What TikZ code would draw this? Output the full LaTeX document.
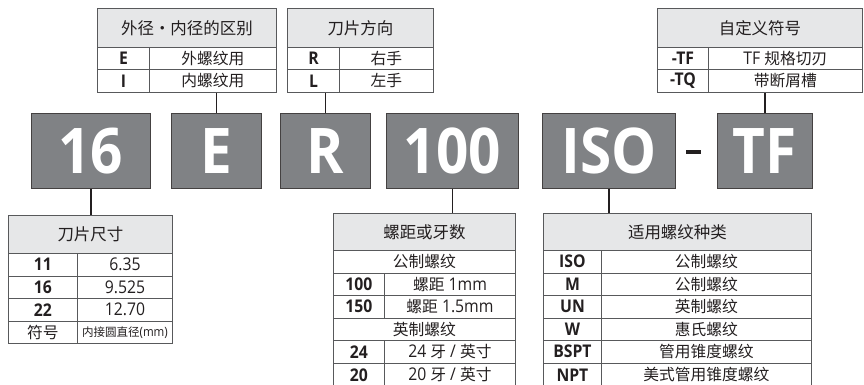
\documentclass[tikz,border=0pt]{standalone}
\usepackage{fontspec}
\setmainfont{Open Sans}[FakeStretch=0.9]
\newfontfamily\cjk{Noto Sans CJK SC}[Scale=0.9]
\definecolor{boxgray}{HTML}{808285}
\definecolor{hdr}{HTML}{E6E7E8}
\definecolor{tline}{HTML}{58595B}
\definecolor{ink}{HTML}{231F20}
\begin{document}
\begin{tikzpicture}[x=1pt,y=-1pt,
  cell/.style={draw=tline, line width=0.9pt, anchor=north west, inner sep=0pt, text=ink, font=\fontsize{17.5}{18}\selectfont},
  head/.style={cell, fill=hdr, font=\fontsize{18.3}{19}\selectfont},
  key/.style={cell, font=\bfseries\fontsize{17.5}{18}\selectfont},
  bigbox/.style={draw=ink!85, line width=0.9pt, fill=boxgray, anchor=north west, inner sep=0pt, text=white, font=\bfseries\fontsize{63}{63}\selectfont, minimum height=75pt},
  conn/.style={draw=ink, line width=1.4pt}]
\useasboundingbox (0,0) rectangle (864,385);
% code boxes
\node[bigbox, minimum width=119pt] (b16) at (31,113) {16};
\node[bigbox, minimum width=90pt] (bE) at (171,113) {E};
\node[bigbox, minimum width=90pt] (bR) at (280,113) {R};
\node[bigbox, minimum width=132pt] (b100) at (386,113) {100};
\node[bigbox, minimum width=133pt] (bISO) at (542,113) {ISO};
\node[fill=ink, anchor=north west, inner sep=0pt, minimum width=15pt, minimum height=4pt] (dash) at (686,150) {};
\node[bigbox, minimum width=95pt] (bTF) at (717,113) {TF};
% table 1
\node[head, minimum width=179pt, minimum height=39pt] (t1h) at (97,8) {\cjk 外径・内径的区别};
\node[key, minimum width=52pt, minimum height=22pt] (t1k1) at (97,47) {E};
\node[cell, minimum width=127pt, minimum height=22pt] (t1v1) at (149,47) {\cjk 外螺纹用};
\node[key, minimum width=52pt, minimum height=23pt] (t1k2) at (97,69) {I};
\node[cell, minimum width=127pt, minimum height=23pt] (t1v2) at (149,69) {\cjk 内螺纹用};
% table 2
\node[head, minimum width=146pt, minimum height=39pt] (t2h) at (287,8) {\cjk 刀片方向};
\node[key, minimum width=52pt, minimum height=22pt] (t2k1) at (287,47) {R};
\node[cell, minimum width=94pt, minimum height=22pt] (t2v1) at (339,47) {\cjk 右手};
\node[key, minimum width=52pt, minimum height=23pt] (t2k2) at (287,69) {L};
\node[cell, minimum width=94pt, minimum height=23pt] (t2v2) at (339,69) {\cjk 左手};
% table 3
\node[head, minimum width=205pt, minimum height=39pt] (t3h) at (657,8) {\cjk 自定义符号};
\node[key, minimum width=51pt, minimum height=22pt] (t3k1) at (657,47) {-TF};
\node[cell, minimum width=154pt, minimum height=22pt] (t3v1) at (708,47) {TF {\cjk 规格切刃}};
\node[key, minimum width=51pt, minimum height=23pt] (t3k2) at (657,69) {-TQ};
\node[cell, minimum width=154pt, minimum height=23pt] (t3v2) at (708,69) {\cjk 带断屑槽};
% bottom table 1
\node[head, minimum width=164pt, minimum height=38pt] (u1h) at (8,215) {\cjk 刀片尺寸};
\node[key, minimum width=69pt, minimum height=22.5pt] (u1k1) at (8,253) {11};
\node[cell, minimum width=95pt, minimum height=22.5pt] (u1v1) at (77,253) {6.35};
\node[key, minimum width=69pt, minimum height=22.5pt] (u1k2) at (8,275.5) {16};
\node[cell, minimum width=95pt, minimum height=22.5pt] (u1v2) at (77,275.5) {9.525};
\node[key, minimum width=69pt, minimum height=22.5pt] (u1k3) at (8,298) {22};
\node[cell, minimum width=95pt, minimum height=22.5pt] (u1v3) at (77,298) {12.70};
\node[cell, minimum width=69pt, minimum height=22.5pt] (u1k4) at (8,320.5) {\cjk 符号};
\node[cell, minimum width=95pt, minimum height=22.5pt, font=\fontsize{12.8}{13}\selectfont] (u1v4) at (77,320.5) {{\cjk 内接圆直径}(mm)};
% bottom table 2
\node[head, minimum width=182pt, minimum height=37pt] (u2h) at (333,213) {\cjk 螺距或牙数};
\node[cell, minimum width=182pt, minimum height=22.5pt] (u2s1) at (333,250) {\cjk 公制螺纹};
\node[key, minimum width=51pt, minimum height=22.5pt] (u2k1) at (333,272.5) {100};
\node[cell, minimum width=131pt, minimum height=22.5pt] (u2v1) at (384,272.5) {{\cjk 螺距} 1mm};
\node[key, minimum width=51pt, minimum height=22.5pt] (u2k2) at (333,295) {150};
\node[cell, minimum width=131pt, minimum height=22.5pt] (u2v2) at (384,295) {{\cjk 螺距} 1.5mm};
\node[cell, minimum width=182pt, minimum height=22.5pt] (u2s2) at (333,317.5) {\cjk 英制螺纹};
\node[key, minimum width=51pt, minimum height=22.5pt] (u2k3) at (333,340) {24};
\node[cell, minimum width=131pt, minimum height=22.5pt] (u2v3) at (384,340) {24 {\cjk 牙} / {\cjk 英寸}};
\node[key, minimum width=51pt, minimum height=24pt] (u2k4) at (333,362.5) {20};
\node[cell, minimum width=131pt, minimum height=24pt] (u2v4) at (384,362.5) {20 {\cjk 牙} / {\cjk 英寸}};
% bottom table 3
\node[head, minimum width=268pt, minimum height=37pt] (u3h) at (543,213) {\cjk 适用螺纹种类};
\node[key, minimum width=58pt, minimum height=22.5pt] (u3k1) at (543,250) {ISO};
\node[cell, minimum width=210pt, minimum height=22.5pt] (u3v1) at (601,250) {\cjk 公制螺纹};
\node[key, minimum width=58pt, minimum height=22.5pt] (u3k2) at (543,272.5) {M};
\node[cell, minimum width=210pt, minimum height=22.5pt] (u3v2) at (601,272.5) {\cjk 公制螺纹};
\node[key, minimum width=58pt, minimum height=22.5pt] (u3k3) at (543,295) {UN};
\node[cell, minimum width=210pt, minimum height=22.5pt] (u3v3) at (601,295) {\cjk 英制螺纹};
\node[key, minimum width=58pt, minimum height=22.5pt] (u3k4) at (543,317.5) {W};
\node[cell, minimum width=210pt, minimum height=22.5pt] (u3v4) at (601,317.5) {\cjk 惠氏螺纹};
\node[key, minimum width=58pt, minimum height=22.5pt] (u3k5) at (543,340) {BSPT};
\node[cell, minimum width=210pt, minimum height=22.5pt] (u3v5) at (601,340) {\cjk 管用锥度螺纹};
\node[key, minimum width=58pt, minimum height=24pt] (u3k6) at (543,362.5) {NPT};
\node[cell, minimum width=210pt, minimum height=24pt] (u3v6) at (601,362.5) {\cjk 美式管用锥度螺纹};
% connectors
\draw[conn] (bE.north) -- (bE.north |- t1v2.south);
\draw[conn] (bR.north) -- (bR.north |- t2k2.south);
\draw[conn] (bTF.north) -- (bTF.north |- t3v2.south);
\draw[conn] (b16.south) -- (b16.south |- u1h.north);
\draw[conn] (b100.south) -- (b100.south |- u2h.north);
\draw[conn] (bISO.south) -- (bISO.south |- u3h.north);
\end{tikzpicture}
\end{document}
